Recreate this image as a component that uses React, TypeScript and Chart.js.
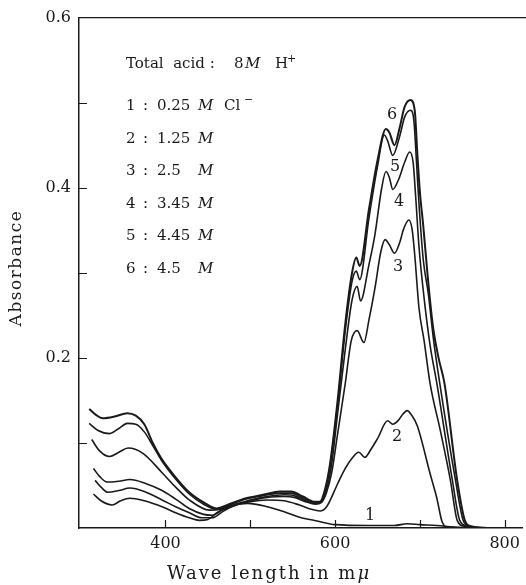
import React, { useEffect, useRef } from 'react';
import { Chart, registerables } from 'chart.js';
Chart.register(...registerables);

// ---- data (wavelength in mμ, absorbance) ----
const wl1 = [315, 324, 337, 347, 358, 375, 396, 412, 428, 440, 450, 462, 480, 497, 520, 540, 557, 580, 600, 640, 670, 685, 700, 720, 740, 770];
const abs1 = [0.040, 0.032, 0.027, 0.032, 0.035, 0.032, 0.025, 0.018, 0.012, 0.009, 0.010, 0.019, 0.027, 0.029, 0.025, 0.019, 0.013, 0.008, 0.004, 0.003, 0.003, 0.005, 0.004, 0.003, 0.001, 0.000];

const wl2 = [317, 324, 332, 345, 358, 375, 396, 412, 428, 443, 455, 467, 480, 500, 520, 540, 558, 572, 582, 590, 603, 612, 620, 628, 635, 642, 650, 662, 668, 675, 680, 685, 690, 697, 712, 720, 726, 732, 760];
const abs2 = [0.056, 0.048, 0.042, 0.044, 0.047, 0.043, 0.033, 0.025, 0.018, 0.012, 0.012, 0.019, 0.026, 0.031, 0.033, 0.032, 0.027, 0.022, 0.020, 0.025, 0.052, 0.070, 0.082, 0.089, 0.083, 0.092, 0.105, 0.126, 0.122, 0.127, 0.134, 0.138, 0.133, 0.120, 0.064, 0.035, 0.008, 0.001, 0.000];

const wl3 = [315, 322, 331, 345, 358, 375, 396, 412, 428, 445, 455, 467, 480, 500, 520, 540, 552, 565, 577, 584, 590, 596, 603, 612, 619, 626, 634, 640, 647, 654, 659, 664, 670, 676, 681, 687, 691, 694, 699, 705, 712, 724, 736, 744, 752, 774];
const abs3 = [0.070, 0.061, 0.054, 0.055, 0.057, 0.053, 0.044, 0.034, 0.023, 0.016, 0.015, 0.021, 0.026, 0.032, 0.036, 0.037, 0.036, 0.031, 0.028, 0.030, 0.042, 0.065, 0.111, 0.170, 0.220, 0.232, 0.218, 0.245, 0.282, 0.325, 0.339, 0.333, 0.323, 0.335, 0.352, 0.362, 0.350, 0.320, 0.258, 0.220, 0.170, 0.115, 0.056, 0.009, 0.002, 0.000];

const wl4 = [313, 322, 334, 345, 356, 373, 396, 412, 428, 452, 465, 480, 500, 520, 540, 552, 565, 577, 584, 590, 596, 603, 612, 620, 626, 630, 640, 647, 655, 660, 664, 668, 675, 682, 688, 692, 695, 699, 705, 712, 720, 738, 747, 756, 776];
const abs4 = [0.104, 0.091, 0.084, 0.089, 0.094, 0.088, 0.065, 0.048, 0.033, 0.021, 0.022, 0.027, 0.033, 0.037, 0.039, 0.038, 0.032, 0.029, 0.031, 0.045, 0.075, 0.135, 0.210, 0.268, 0.284, 0.267, 0.310, 0.345, 0.400, 0.419, 0.412, 0.398, 0.410, 0.430, 0.442, 0.430, 0.390, 0.330, 0.270, 0.215, 0.170, 0.058, 0.009, 0.002, 0.000];

const wl5 = [310, 320, 334, 345, 355, 365, 375, 385, 395, 410, 428, 445, 460, 475, 495, 515, 535, 548, 562, 575, 582, 588, 594, 603, 612, 620, 625, 629, 640, 650, 658, 662, 668, 676, 682, 689, 693, 696, 699, 704, 710, 716, 723, 742, 751, 758, 778];
const abs5 = [0.123, 0.115, 0.111, 0.117, 0.123, 0.122, 0.113, 0.097, 0.080, 0.060, 0.040, 0.028, 0.022, 0.027, 0.034, 0.038, 0.041, 0.041, 0.035, 0.030, 0.030, 0.043, 0.072, 0.145, 0.232, 0.290, 0.302, 0.292, 0.365, 0.425, 0.462, 0.455, 0.438, 0.460, 0.483, 0.491, 0.478, 0.430, 0.380, 0.315, 0.275, 0.222, 0.173, 0.056, 0.009, 0.002, 0.000];

const wl6 = [310, 318, 326, 340, 355, 365, 375, 385, 395, 410, 428, 445, 460, 475, 495, 515, 535, 548, 562, 575, 582, 588, 594, 603, 612, 620, 625, 629, 640, 650, 660, 664, 670, 676, 682, 689, 694, 697, 700, 704, 709, 715, 722, 729, 744, 753, 760, 780];
const abs6 = [0.140, 0.133, 0.129, 0.131, 0.135, 0.132, 0.122, 0.100, 0.082, 0.062, 0.042, 0.030, 0.023, 0.028, 0.035, 0.039, 0.043, 0.043, 0.037, 0.031, 0.031, 0.045, 0.075, 0.150, 0.240, 0.300, 0.318, 0.308, 0.375, 0.432, 0.469, 0.465, 0.450, 0.470, 0.495, 0.503, 0.490, 0.440, 0.395, 0.355, 0.298, 0.240, 0.200, 0.170, 0.056, 0.009, 0.002, 0.000];

const curveWl = [wl1, wl2, wl3, wl4, wl5, wl6];
const curveAbs = [abs1, abs2, abs3, abs4, abs5, abs6];
const curveNames = ['1', '2', '3', '4', '5', '6'];

const yTickLabels = [0.2, 0.4, 0.6];
const yTickMarks = [0.1, 0.2, 0.3, 0.4, 0.5];
const xTickLabels = [400, 600, 800];
const xTickMarks = [400, 500, 600, 700, 800];

const legendNums = ['1', '2', '3', '4', '5', '6'];
const legendConc = ['0.25', '1.25', '2.5', '3.45', '4.45', '4.5'];

const INK = '#1a1a1a';
const SERIF = '"DejaVu Serif", serif';

const decorPlugin = {
  id: 'decor',
  afterDraw(chart: any) {
    const { ctx, chartArea, scales } = chart;
    const { left, top, bottom } = chartArea;
    const x = scales.x;
    const y = scales.y;
    ctx.save();
    ctx.strokeStyle = INK;
    ctx.lineWidth = 1.2;
    ctx.beginPath();
    ctx.moveTo(left, top);
    ctx.lineTo(chart.width, top);
    for (const v of yTickMarks) {
      const py = Math.round(y.getPixelForValue(v)) + 0.5;
      ctx.moveTo(left, py);
      ctx.lineTo(left + 8, py);
    }
    for (const v of xTickMarks) {
      const px = Math.round(x.getPixelForValue(v)) + 0.5;
      ctx.moveTo(px, bottom);
      ctx.lineTo(px, bottom - 8);
    }
    ctx.stroke();

    ctx.fillStyle = INK;
    ctx.textBaseline = 'alphabetic';
    ctx.textAlign = 'left';
    // header line
    ctx.font = `15px ${SERIF}`;
    ctx.fillText('Total  acid :', 126, 68);
    ctx.fillText('8', 234, 68);
    ctx.font = `italic 15px ${SERIF}`;
    ctx.fillText('M', 245, 68);
    ctx.font = `15px ${SERIF}`;
    ctx.fillText('H', 275, 68);
    ctx.font = `11px ${SERIF}`;
    ctx.fillText('+', 287, 62);

    legendNums.forEach((n, i) => {
      const by = 110 + i * 32.5;
      ctx.font = `15px ${SERIF}`;
      ctx.fillText(n, 126, by);
      ctx.fillText(':', 143, by);
      ctx.fillText(legendConc[i], 157, by);
      ctx.font = `italic 15px ${SERIF}`;
      ctx.fillText('M', 198, by);
      if (i === 0) {
        ctx.font = `15px ${SERIF}`;
        ctx.fillText('Cl', 224, by);
        ctx.font = `11px ${SERIF}`;
        ctx.fillText('\u2212', 244, by - 7);
      }
    });

    // curve labels
    ctx.font = `16px ${SERIF}`;
    ctx.textAlign = 'center';
    ctx.textBaseline = 'middle';
    const labelPos: [number, number][] = [[370, 516], [397, 437], [398, 267], [399, 202], [395, 167], [392, 115]];
    curveNames.forEach((n, i) => ctx.fillText(n, labelPos[i][0], labelPos[i][1]));

    // axis titles
    (ctx as any).letterSpacing = '1.5px';
    ctx.font = `17px ${SERIF}`;
    ctx.save();
    ctx.translate(17, 268);
    ctx.rotate(-Math.PI / 2);
    ctx.fillText('Absorbance', 0, 0);
    ctx.restore();

    (ctx as any).letterSpacing = '2px';
    ctx.textAlign = 'left';
    ctx.textBaseline = 'alphabetic';
    ctx.font = `18px ${SERIF}`;
    const t1 = 'Wave length in m';
    ctx.fillText(t1, 167, 579);
    const w1 = ctx.measureText(t1).width;
    ctx.font = `italic 18px ${SERIF}`;
    ctx.fillText('\u03bc', 167 + w1, 579);
    (ctx as any).letterSpacing = '0px';
    ctx.restore();
  },
};

export default function App() {
  const ref = useRef<HTMLCanvasElement>(null);
  useEffect(() => {
    if (!ref.current) return;
    const datasets = curveNames.map((name, i) => ({
      label: name,
      data: curveWl[i].map((w, k) => ({ x: w, y: curveAbs[i][k] })),
      borderColor: INK,
      borderWidth: i === 5 ? 2 : 1.6,
      pointRadius: 0,
      fill: false,
      cubicInterpolationMode: 'monotone' as const,
    }));
    const chart = new Chart(ref.current, {
      type: 'line',
      data: { datasets },
      plugins: [decorPlugin],
      options: {
        animation: false,
        responsive: false,
        devicePixelRatio: 1,
        layout: { padding: { left: 0, top: 15, right: 1, bottom: 0 } },
        plugins: { legend: { display: false }, tooltip: { enabled: false } },
        scales: {
          x: {
            type: 'linear',
            min: 298,
            max: 821,
            afterBuildTicks: (s: any) => { s.ticks = xTickLabels.map((v) => ({ value: v })); },
            afterFit: (s: any) => { s.height = 57; },
            grid: { display: false, drawTicks: false },
            border: { display: true, color: INK, width: 1.5 },
            ticks: { color: INK, font: { family: SERIF, size: 16 }, padding: 6, maxRotation: 0, callback: (v: any) => String(v) },
          },
          y: {
            type: 'linear',
            min: 0,
            max: 0.6,
            afterBuildTicks: (s: any) => { s.ticks = yTickLabels.map((v) => ({ value: v })); },
            afterFit: (s: any) => { s.width = 79; },
            grid: { display: false, drawTicks: false },
            border: { display: true, color: INK, width: 1.5 },
            ticks: { color: INK, font: { family: SERIF, size: 16 }, padding: 8, callback: (v: any) => Number(v).toFixed(1) },
          },
        },
      },
    });
    return () => chart.destroy();
  }, []);
  return (
    <div style={{ position: 'absolute', left: 0, top: 0 }}>
      <canvas ref={ref} width={526} height={585} style={{ display: 'block' }} />
    </div>
  );
}
